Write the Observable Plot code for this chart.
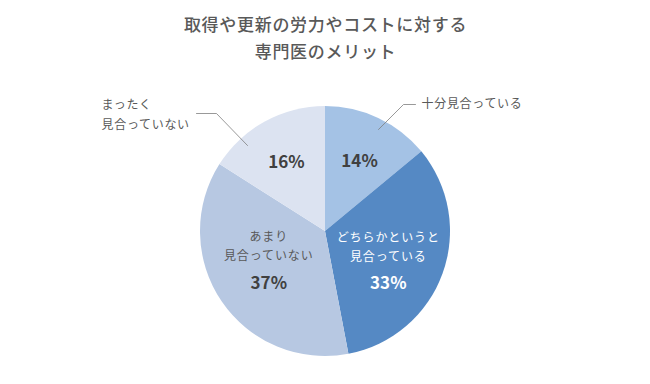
<!DOCTYPE html>
<html><head><meta charset="utf-8">
<script src="https://cdn.jsdelivr.net/npm/d3@7"></script>
<script src="https://cdn.jsdelivr.net/npm/@observablehq/plot@0.6"></script>
<style>
html,body{margin:0;padding:0;background:#fff;}
</style>
</head><body>
<div id="chart"></div>
<script>
const titleLines = ["取得や更新の労力やコストに対する", "専門医のメリット"];
const categories = ["十分見合っている", "どちらかというと\n見合っている", "あまり\n見合っていない", "まったく\n見合っていない"];
const values = [14, 33, 37, 16];
const colors = ["#a4c2e5", "#5589c4", "#b7c8e2", "#dce3f1"];

const W = 650, H = 384;
const cx = 325, cy = 231, R = 125;
const font = "'Noto Sans CJK JP', 'Noto Sans', sans-serif";

const data = categories.map((c, i) => ({category: c, value: values[i], color: colors[i]}));
const arcs = d3.pie().value(d => d.value).sort(null)(data);

// label placement: inside labels at centroid radius plus a best-fit nudge
const inside = [false, true, true, false];
const labelRadius = [0.64, 0.5, 0.5, 0.65];
const nudge = [[0, 2], [4, 8], [-5, -6], [0, 2]];
const pctColor = ["#404040", "#ffffff", "#404040", "#404040"];
const catColor = ["#595959", "#ffffff", "#595959", "#595959"];

const pctLabels = [], catLabels = [];
arcs.forEach((a, i) => {
  const ang = (a.startAngle + a.endAngle) / 2;
  const r = R * labelRadius[i];
  const x = cx + r * Math.sin(ang) + nudge[i][0], y = cy - r * Math.cos(ang) + nudge[i][1];
  if (inside[i]) {
    const lines = data[i].category.split("\n");
    lines.forEach((t, k) => catLabels.push({x, y: y - 23 + k * 19 - (lines.length - 2) * 19, text: t, color: catColor[i]}));
    pctLabels.push({x, y: y + 23, text: data[i].value + "%", color: pctColor[i]});
  } else {
    pctLabels.push({x, y, text: data[i].value + "%", color: pctColor[i]});
  }
});

const outside = [
  {x: 421, y: 104, text: "十分見合っている"},
  {x: 101, y: 105, text: "まったく"},
  {x: 101, y: 125, text: "見合っていない"}
];
const leaders = [
  {id: 0, x: 378, y: 129}, {id: 0, x: 403, y: 104}, {id: 0, x: 415, y: 104},
  {id: 3, x: 247, y: 145}, {id: 3, x: 216, y: 113}, {id: 3, x: 196, y: 113}
];

function pieMark(index, scales, values, dims) {
  const g = d3.create("svg:g");
  const px = scales.x(cx), py = scales.y(cy);
  const pr = scales.x(cx + R) - px;
  const arcGen = d3.arc().innerRadius(0).outerRadius(pr);
  g.attr("transform", `translate(${px},${py})`)
    .selectAll("path").data(arcs).join("path")
    .attr("d", arcGen)
    .attr("fill", d => d.data.color);
  return g.node();
}

const plot = Plot.plot({
  width: W, height: H,
  margin: 0,
  x: {domain: [0, W], range: [0, W], axis: null},
  y: {domain: [0, H], range: [0, H], axis: null},
  style: {fontFamily: font, background: "#fff"},
  marks: [
    pieMark,
    Plot.line(leaders, {x: "x", y: "y", z: "id", stroke: "#7f7f7f", strokeWidth: 0.8}),
    Plot.text(titleLines.map((t, i) => ({t, i})), {x: () => W / 2, y: d => 25 + d.i * 27, text: "t", fontSize: 17, fontWeight: 500, fill: "#595959", fontFamily: font}),
    Plot.text(catLabels, {x: "x", y: "y", text: "text", fill: "color", fontSize: 12, fontFamily: font}),
    Plot.text(pctLabels, {x: "x", y: "y", text: "text", fill: "color", fontSize: 17, fontWeight: "bold", fontFamily: font}),
    Plot.text(outside, {x: "x", y: "y", text: "text", textAnchor: "start", fill: "#595959", fontSize: 12, fontFamily: font})
  ]
});
const textGroups = plot.querySelectorAll('g[aria-label="text"]');
const spacing = ["0.7px", "0.9px", "0px", "0.7px"];
textGroups.forEach((g, i) => g.style.letterSpacing = spacing[i]);
document.getElementById("chart").appendChild(plot);
</script>
</body></html>
